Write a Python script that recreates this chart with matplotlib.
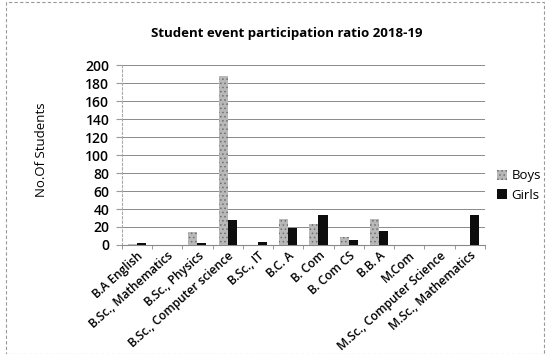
import numpy as np
import matplotlib
matplotlib.use("Agg")
import matplotlib.pyplot as plt
from matplotlib.patches import Rectangle

plt.rcParams["font.family"] = ["Open Sans", "DejaVu Sans"]
plt.rcParams["hatch.linewidth"] = 0.6

courses = [
    "B.A English", "B.Sc., Mathematics", "B.Sc., Physics",
    "B.Sc., Computer science", "B.Sc., IT", "B.C. A", "B. Com",
    "B. Com CS", "B.B. A", "M.Com", "M.Sc., Computer Science",
    "M.Sc., Mathematics",
]
boys = [1, 0, 14, 188, 0, 29, 23, 9, 29, 0, 0, 0]
girls = [2, 0, 2, 28, 3, 19, 33, 5, 16, 0, 0, 33]
yticks = list(range(0, 201, 20))

fig = plt.figure(figsize=(5.51, 3.54), dpi=100)
ax = fig.add_axes([0.221, 0.308, 0.659, 0.508])

x = np.arange(len(courses))
w = 0.3
ax.bar(x - w / 2, boys, w, facecolor="#b8b8b8", edgecolor="#6f6f6f",
       hatch="....", linewidth=0, label="Boys", zorder=3)
ax.bar(x + w / 2, girls, w, color="#0d0d0d", label="Girls", zorder=3)

ax.set_ylim(0, 200)
ax.set_xlim(-0.5, len(courses) - 0.5)
ax.set_yticks(yticks)
ax.tick_params(axis="y", length=4, color="#999999", labelsize=10, pad=5)
for lbl in ax.get_yticklabels():
    lbl.set_fontweight("semibold")
ax.set_xticks(x)
ax.set_xticklabels(courses, rotation=42, ha="right", rotation_mode="anchor",
                   fontsize=8.6, fontweight="semibold")
ax.set_xticks(np.arange(-0.5, len(courses)), minor=True)
ax.tick_params(axis="x", which="major", length=0, pad=3)
ax.tick_params(axis="x", which="minor", length=3, color="#888888")
ax.grid(axis="y", color="#8a8a8a", linewidth=0.7, zorder=0)
for side in ["top", "right"]:
    ax.spines[side].set_visible(False)
ax.spines["left"].set_color("#aaaaaa")
ax.spines["left"].set_linestyle((0, (2, 2)))
ax.spines["bottom"].set_color("#888888")

ax.set_ylabel("No.Of Students", fontsize=9.5)
ax.yaxis.set_label_coords(-0.204, 0.53)
fig.text(0.52, 0.905, "Student event participation ratio 2018-19",
         ha="center", va="center", fontsize=9.5, fontweight="bold")

ax.legend(loc="center left", bbox_to_anchor=(1.0, 0.33), frameon=False,
          fontsize=9.5, handlelength=0.8, handleheight=0.8,
          handletextpad=0.3, labelspacing=0.5)

fig.patches.append(Rectangle((0.01, 0.0), 0.978, 0.993,
                             transform=fig.transFigure, fill=False,
                             edgecolor="#999999", linewidth=0.8,
                             linestyle=(0, (3, 2))))

fig.savefig("out.png", dpi=100)
